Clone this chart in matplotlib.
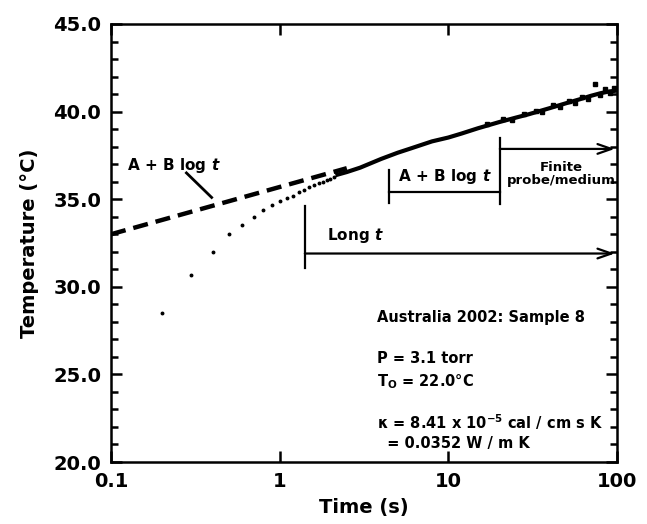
import matplotlib

matplotlib.use("Agg")
import matplotlib.pyplot as plt
from matplotlib.ticker import FixedLocator, MultipleLocator, FormatStrFormatter, NullLocator

# early readings (visible as separate dots)
t_early = [0.2, 0.3, 0.4, 0.5, 0.6, 0.7, 0.8, 0.9, 1.0, 1.1, 1.2, 1.3, 1.4,
           1.5, 1.6, 1.7, 1.8, 1.9, 2.0, 2.1]
T_early = [28.5, 30.7, 32.0, 33.0, 33.5, 34.0, 34.4, 34.65, 34.9, 35.05, 35.2,
           35.4, 35.55, 35.68, 35.8, 35.9, 36.0, 36.08, 36.17, 36.25]

# later readings (dense band)
t_band = [2.2, 2.5, 3, 4, 5, 6, 8, 10, 12, 15, 20, 25, 30, 40, 50, 60, 70,
          80, 90, 100]
T_band = [36.4, 36.55, 36.8, 37.3, 37.65, 37.9, 38.3, 38.52, 38.75, 39.05,
          39.4, 39.65, 39.85, 40.2, 40.48, 40.7, 40.9, 41.05, 41.15, 41.2]

# scatter around the band at long times
t_noise = [17, 21, 24, 28, 33, 36, 42, 46, 52, 56, 62, 67, 74, 79, 85, 91, 96]
T_noise = [39.3, 39.55, 39.5, 39.85, 40.05, 39.95, 40.35, 40.25, 40.6, 40.5,
           40.85, 40.7, 41.6, 40.95, 41.3, 41.05, 41.32]

# fitted A + B log t line
t_fit = [0.1, 2.5]
T_fit = [33.0, 36.77]

fig = plt.figure(figsize=(6.47, 5.24), dpi=100)
ax = fig.add_axes([0.1716, 0.1183, 0.7820, 0.8359])

ax.plot(t_fit, T_fit, color="black", lw=3.2, dashes=(3.4, 1.8), solid_capstyle="butt")
ax.plot(t_early, T_early, ls="none", marker="o", ms=1.8, color="black")
ax.plot(t_band, T_band, color="black", lw=3.0)
ax.plot(t_noise, T_noise, ls="none", marker="s", ms=2.2, color="black")

ax.set_xscale("log")
ax.set_xlim(0.1, 100)
ax.set_ylim(20, 45)

ax.xaxis.set_major_locator(FixedLocator([0.1, 1, 10, 100]))
ax.xaxis.set_minor_locator(NullLocator())
ax.set_xticklabels(["0.1", "1", "10", "100"])
ax.yaxis.set_major_locator(MultipleLocator(5))
ax.yaxis.set_minor_locator(MultipleLocator(1))
ax.yaxis.set_major_formatter(FormatStrFormatter("%.1f"))

ax.tick_params(which="both", direction="in", top=True, right=True, width=1.8,
               labelsize=14, pad=7)
ax.tick_params(which="major", length=8)
ax.tick_params(which="minor", length=5)
for lab in ax.get_xticklabels() + ax.get_yticklabels():
    lab.set_fontweight("bold")
for sp in ax.spines.values():
    sp.set_linewidth(1.8)

ax.set_xlabel("Time (s)", fontsize=14, fontweight="bold", labelpad=5)
ax.set_ylabel("Temperature (°C)", fontsize=14, fontweight="bold", labelpad=10)

lw = 1.6
arrow = dict(arrowstyle="->,head_length=1.0,head_width=0.35", lw=lw, color="black",
             shrinkA=0, shrinkB=0)

# A + B log t label on the fit line
ax.text(0.235, 36.95, r"A + B log $\mathbfit{t}$", fontsize=11, fontweight="bold",
        ha="center", va="center")
ax.plot([0.28, 0.395], [36.5, 35.1], color="black", lw=2.0)

# Long t
ax.plot([1.41, 1.41], [31.05, 34.6], color="black", lw=lw)
ax.annotate("", xy=(97, 31.9), xytext=(1.41, 31.9), arrowprops=arrow)
ax.text(1.9, 32.95, r"Long $\mathbfit{t}$", fontsize=11, fontweight="bold",
        ha="left", va="center")

# A + B log t window
ax.plot([4.45, 4.45], [34.8, 36.65], color="black", lw=lw)
ax.plot([4.45, 20.2], [35.4, 35.4], color="black", lw=lw)
ax.plot([20.2, 20.2], [34.7, 38.5], color="black", lw=lw)
ax.text(9.5, 36.3, r"A + B log $\mathbfit{t}$", fontsize=11, fontweight="bold",
        ha="center", va="center")

# finite probe / medium
ax.annotate("", xy=(97, 37.87), xytext=(20.2, 37.87), arrowprops=arrow)
ax.text(47, 36.45, "Finite\nprobe/medium", fontsize=9.5, fontweight="semibold",
        ha="center", va="center", linespacing=1.05)

# sample info
info_x = 3.78
fs = 10.5
ax.text(info_x, 28.25, "Australia 2002: Sample 8", fontsize=fs, fontweight="bold",
        ha="left", va="center")
ax.text(info_x, 25.9, "P = 3.1 torr", fontsize=fs, fontweight="bold",
        ha="left", va="center")
ax.text(info_x, 24.6, r"T$_{\mathbf{O}}$ = 22.0°C", fontsize=fs, fontweight="bold",
        ha="left", va="center")
ax.text(info_x, 22.3, r"κ = 8.41 x 10$^{\mathbf{-5}}$ cal / cm s K", fontsize=fs,
        fontweight="bold", ha="left", va="center")
ax.text(info_x, 21.05, "  = 0.0352 W / m K", fontsize=fs, fontweight="bold",
        ha="left", va="center")

fig.savefig("out.png", dpi=100)
